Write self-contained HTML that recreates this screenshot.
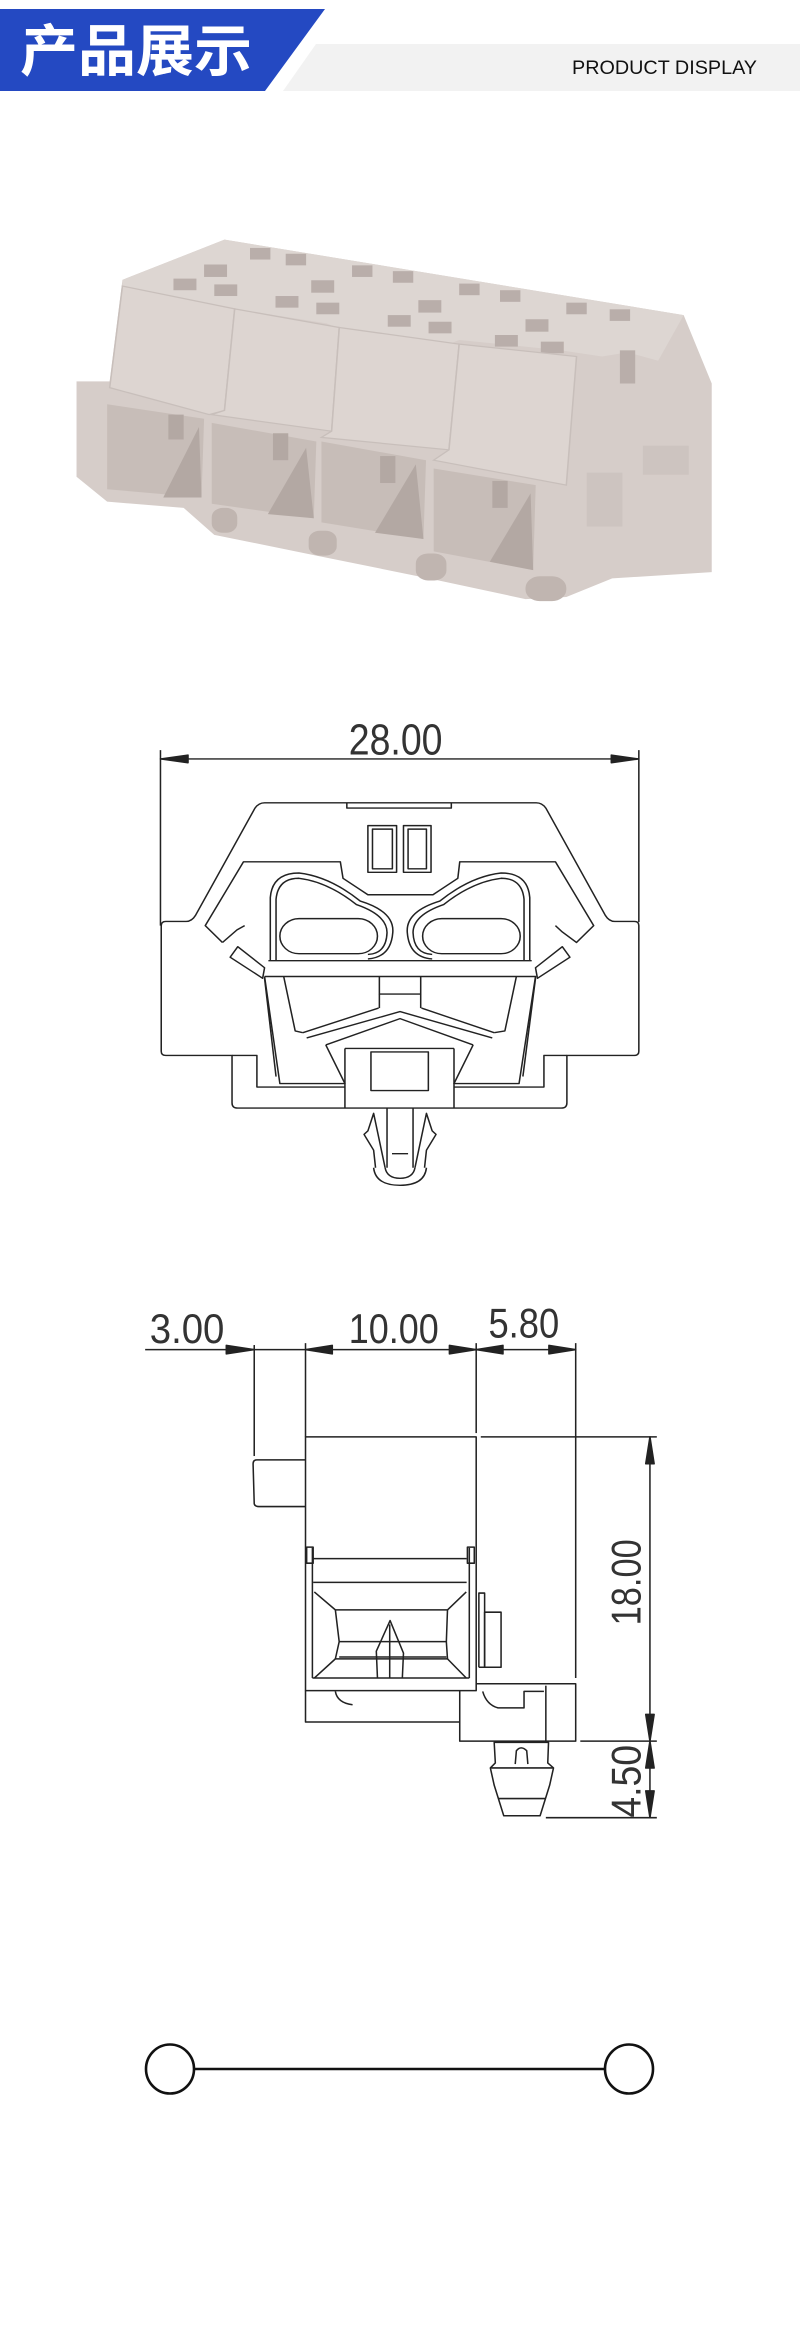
<!DOCTYPE html>
<html><head><meta charset="utf-8"><style>
html,body{margin:0;padding:0;background:#fff;}
body{width:800px;height:2335px;position:relative;overflow:hidden;}
svg{position:absolute;left:0;top:0;}
</style></head><body>
<svg width="800" height="2335" viewBox="0 0 800 2335" xmlns="http://www.w3.org/2000/svg">
<!-- header -->
<polygon points="316,44 800,44 800,91 283,91" fill="#f2f2f2"/>
<polygon points="0,9 325,9 265,91 0,91" fill="#2449c2"/>
<text x="20" y="71" font-family="'Liberation Sans','Noto Sans CJK SC',sans-serif" font-size="56" font-weight="bold" fill="#fff" textLength="232" lengthAdjust="spacingAndGlyphs">产品展示</text>
<text x="572" y="74" font-family="'Liberation Sans',sans-serif" font-size="19" fill="#111" textLength="185" lengthAdjust="spacingAndGlyphs">PRODUCT DISPLAY</text>

<!-- product photo (zoom1 coords) -->
<g transform="scale(0.5102,0.4146)">
 <polygon points="150,920 215,920 240,675 440,578 1340,760 1395,925 1395,1380 1200,1395 1110,1440 1030,1445 860,1400 620,1340 420,1290 360,1225 210,1210 150,1150" fill="#d6cdc9"/>
 <polygon points="240,675 440,578 1340,760 1290,870 1230,850 1180,860 1100,845 900,820 880,830 660,790 640,780 460,745 240,690" fill="#ddd6d2"/>
 <g fill="#b9aeaa">
  <rect x="490" y="598" width="40" height="28"/><rect x="560" y="612" width="40" height="28"/>
  <rect x="400" y="638" width="45" height="30"/><rect x="340" y="672" width="45" height="28"/><rect x="420" y="686" width="45" height="28"/>
  <rect x="690" y="640" width="40" height="28"/><rect x="770" y="654" width="40" height="28"/>
  <rect x="610" y="676" width="45" height="30"/><rect x="540" y="714" width="45" height="28"/><rect x="620" y="730" width="45" height="28"/>
  <rect x="900" y="684" width="40" height="28"/><rect x="980" y="700" width="40" height="28"/>
  <rect x="820" y="724" width="45" height="30"/><rect x="760" y="760" width="45" height="28"/><rect x="840" y="776" width="45" height="28"/>
  <rect x="1110" y="730" width="40" height="28"/><rect x="1195" y="746" width="40" height="28"/>
  <rect x="1030" y="770" width="45" height="30"/><rect x="970" y="808" width="45" height="28"/><rect x="1060" y="824" width="45" height="28"/>
  <rect x="1215" y="845" width="30" height="80"/>
 </g>
 <g fill="#ddd5d1" stroke="#c8bfbb" stroke-width="3">
  <polygon points="240,690 460,745 440,990 410,1000 215,935"/>
  <polygon points="460,745 665,790 650,1040 415,1000 440,990"/>
  <polygon points="665,790 900,830 880,1085 630,1055 650,1040"/>
  <polygon points="900,830 1130,860 1110,1170 850,1110 880,1085"/>
 </g>
 <g fill="#c7bdb8">
  <polygon points="210,975 400,1010 395,1200 210,1180"/>
  <polygon points="415,1020 620,1065 615,1250 415,1215"/>
  <polygon points="630,1065 835,1110 830,1300 630,1260"/>
  <polygon points="850,1130 1050,1170 1045,1375 850,1330"/>
 </g>
 <g fill="#b3a8a3">
  <polygon points="320,1200 390,1030 395,1200"/>
  <polygon points="525,1240 600,1080 615,1250"/>
  <polygon points="735,1285 815,1120 830,1300"/>
  <polygon points="960,1355 1040,1190 1045,1375"/>
  <rect x="330" y="1000" width="30" height="60"/><rect x="535" y="1045" width="30" height="65"/><rect x="745" y="1100" width="30" height="65"/><rect x="965" y="1160" width="30" height="65"/>
 </g>
 <g fill="#c0b5b0">
  <rect x="415" y="1225" width="50" height="60" rx="22"/>
  <rect x="605" y="1280" width="55" height="60" rx="22"/>
  <rect x="815" y="1335" width="60" height="65" rx="24"/>
  <rect x="1030" y="1390" width="80" height="60" rx="28"/>
  <rect x="1150" y="1140" width="70" height="130" fill="#cdc4c0"/>
  <rect x="1260" y="1075" width="90" height="70" fill="#cdc4c0"/>
 </g>
</g>

<!-- front drawing (zoom2 coords) -->
<g transform="translate(100,680) scale(0.3827,0.3509)" fill="none" stroke="#222" stroke-width="4" stroke-linejoin="round">
 <line x1="158" y1="200" x2="158" y2="700"/><line x1="1408" y1="200" x2="1408" y2="690"/>
 <line x1="158" y1="225" x2="1408" y2="225"/>
 <polygon points="158,225 230,214 230,236" fill="#222"/>
 <polygon points="1408,225 1336,214 1336,236" fill="#222"/>
 <text x="650" y="212" font-family="'Liberation Sans',sans-serif" font-size="125" fill="#333" stroke="none" textLength="245" lengthAdjust="spacingAndGlyphs">28.00</text>
 <path d="M160,700 L160,1058 Q160,1070 172,1070 L345,1070 L345,1205 Q345,1220 360,1220 L1205,1220 Q1220,1220 1220,1205 L1220,1070 L1396,1070 Q1408,1070 1408,1058 L1408,700 Q1408,688 1396,688 L1345,688 Q1330,688 1320,670 L1165,365 Q1155,350 1140,350 L430,350 Q415,350 405,365 L250,670 Q240,688 225,688 L172,688 Q160,688 160,700 Z"/>
 <polyline points="645,350 645,365 918,365 918,350"/>
 <rect x="700" y="415" width="75" height="133"/><rect x="712" y="425" width="52" height="113"/>
 <rect x="793" y="415" width="72" height="133"/><rect x="805" y="425" width="48" height="113"/>
 <path d="M320,748 L275,700 L375,518 L628,518 L635,565 L700,612 L870,612 L935,565 L940,518 L1190,518 L1290,700 L1245,748 L1208,718 L1190,700"/>
 <path d="M320,748 L358,712 L378,700"/>
 <path d="M445,800 L445,620 Q450,550 520,550 Q600,560 680,630 Q770,660 765,720 Q760,790 700,795"/>
 <path d="M460,800 L460,625 Q465,565 520,565 Q595,575 670,640 Q750,670 750,720 Q748,780 700,782"/>
 <rect x="470" y="680" width="255" height="100" rx="50"/>
 <path d="M1123,800 L1123,620 Q1118,550 1048,550 Q968,560 888,630 Q798,660 803,720 Q808,790 868,795"/>
 <path d="M1108,800 L1108,625 Q1103,565 1048,565 Q973,575 898,640 Q818,670 818,720 Q820,780 868,782"/>
 <rect x="843" y="680" width="255" height="100" rx="50"/>
 <line x1="440" y1="800" x2="1128" y2="800"/>
 <line x1="430" y1="845" x2="1140" y2="845"/>
 <polyline points="730,845 730,895 838,895 838,845"/>
 <line x1="730" y1="895" x2="730" y2="935"/><line x1="838" y1="895" x2="838" y2="935"/>
 <polyline points="530,1005 728,935"/><polyline points="840,935 1030,1005"/>
 <polyline points="540,1020 784,945 1025,1020"/>
 <polyline points="590,1040 784,965 975,1040"/>
 <polyline points="590,1040 640,1150 470,1150 430,845"/>
 <polyline points="975,1040 925,1150 1095,1150 1138,845"/>
 <polyline points="480,845 510,1000 530,1005"/>
 <polyline points="1088,845 1058,1000 1030,1005"/>
 <line x1="460" y1="1130" x2="430" y2="850"/><line x1="1105" y1="1130" x2="1138" y2="850"/>
 <line x1="640" y1="1050" x2="640" y2="1220"/><line x1="925" y1="1050" x2="925" y2="1220"/>
 <line x1="640" y1="1050" x2="925" y2="1050"/>
 <rect x="708" y="1060" width="150" height="110"/>
 <path d="M340,790 L360,760 L430,820 L425,850 Z"/>
 <path d="M1228,790 L1208,760 L1138,820 L1143,850 Z"/>
 <polyline points="345,1070 410,1070 410,1160 640,1160"/>
 <polyline points="1220,1070 1160,1070 1160,1160 925,1160"/>
 <line x1="750" y1="1220" x2="750" y2="1390"/><line x1="818" y1="1220" x2="818" y2="1390"/>
 <line x1="763" y1="1350" x2="805" y2="1350"/>
 <path d="M745,1390 L715,1235 L700,1285 L690,1295 L715,1340 L720,1390"/>
 <path d="M823,1390 L853,1235 L868,1285 L878,1295 L853,1340 L848,1390"/>
 <path d="M715,1390 Q720,1440 784,1440 Q848,1440 853,1390"/>
 <path d="M745,1390 Q750,1420 784,1420 Q818,1420 823,1390"/>
</g>

<!-- side drawing (zoom3 coords) -->
<g transform="translate(100,1280) scale(0.3827)" fill="none" stroke="#222" stroke-width="4" stroke-linejoin="round">
 <line x1="118" y1="182" x2="1245" y2="182"/>
 <line x1="403" y1="170" x2="403" y2="460"/>
 <line x1="537" y1="165" x2="537" y2="410"/>
 <line x1="983" y1="165" x2="983" y2="400"/>
 <line x1="1243" y1="165" x2="1243" y2="1040"/>
 <g fill="#222">
  <polygon points="403,182 330,171 330,193"/>
  <polygon points="537,182 607,171 607,193"/>
  <polygon points="983,182 913,171 913,193"/>
  <polygon points="983,182 1053,171 1053,193"/>
  <polygon points="1243,182 1173,171 1173,193"/>
  <polygon points="1437,410 1426,480 1448,480"/>
  <polygon points="1437,1205 1426,1135 1448,1135"/>
  <polygon points="1437,1205 1426,1275 1448,1275"/>
  <polygon points="1437,1405 1426,1335 1448,1335"/>
 </g>
 <g font-family="'Liberation Sans',sans-serif" font-size="110" fill="#333" stroke="none">
  <text x="130" y="165" textLength="195" lengthAdjust="spacingAndGlyphs">3.00</text>
  <text x="650" y="165" textLength="235" lengthAdjust="spacingAndGlyphs">10.00</text>
  <text x="1015" y="150" textLength="185" lengthAdjust="spacingAndGlyphs">5.80</text>
  <text transform="translate(1412,790) rotate(-90)" text-anchor="middle" textLength="225" lengthAdjust="spacingAndGlyphs">18.00</text>
  <text transform="translate(1412,1310) rotate(-90)" text-anchor="middle" textLength="190" lengthAdjust="spacingAndGlyphs">4.50</text>
 </g>
 <line x1="1437" y1="410" x2="1437" y2="1405"/>
 <line x1="995" y1="410" x2="1455" y2="410"/>
 <line x1="1255" y1="1205" x2="1455" y2="1205"/>
 <line x1="1165" y1="1405" x2="1455" y2="1405"/>
 <rect x="537" y="410" width="446" height="663"/>
 <path d="M537,470 L410,470 Q400,470 400,480 L403,585 Q405,592 415,592 L537,592"/>
 <line x1="555" y1="700" x2="555" y2="1040"/><line x1="965" y1="700" x2="965" y2="1040"/>
 <rect x="540" y="698" width="17" height="42"/><rect x="960" y="698" width="18" height="42"/>
 <line x1="557" y1="728" x2="958" y2="728"/>
 <line x1="557" y1="790" x2="958" y2="790"/>
 <polyline points="560,815 615,862 908,862 957,815"/>
 <line x1="625" y1="945" x2="905" y2="945"/>
 <line x1="625" y1="985" x2="905" y2="985"/>
 <polyline points="560,1040 615,990 908,990 957,1040"/>
 <polyline points="615,862 625,945 615,990"/><polyline points="908,862 905,945 908,990"/>
 <line x1="555" y1="1040" x2="965" y2="1040"/>
 <polyline points="725,1040 722,970 758,890 793,975 790,1040"/>
 <line x1="757" y1="900" x2="757" y2="1040"/>
 <polyline points="990,1012 990,818 1005,818 1005,1012"/>
 <rect x="1005" y="868" width="43" height="144"/>
 <line x1="990" y1="1012" x2="1048" y2="1012"/>
 <polyline points="537,1073 537,1155 940,1155"/>
 <path d="M615,1075 Q620,1105 660,1110"/>
 <polyline points="983,1055 1243,1055 1243,1205 940,1205 940,1073"/>
 <line x1="1165" y1="1060" x2="1165" y2="1205"/>
 <path d="M1000,1075 Q1010,1110 1040,1118 L1108,1118 L1108,1075 L1160,1075"/>
 <polygon points="1030,1208 1033,1262 1020,1275 1030,1320 1055,1400 1150,1400 1175,1320 1185,1275 1170,1262 1172,1208"/>
 <path d="M1085,1265 L1088,1230 Q1100,1215 1115,1230 L1118,1265"/>
 <line x1="1022" y1="1275" x2="1183" y2="1275"/>
 <line x1="1040" y1="1355" x2="1165" y2="1355"/>
</g>

<!-- bottom schematic -->
<line x1="194" y1="2069" x2="605" y2="2069" stroke="#111" stroke-width="2.6"/>
<ellipse cx="170" cy="2069" rx="24" ry="24.5" fill="#fff" stroke="#111" stroke-width="2.6"/>
<ellipse cx="629" cy="2069" rx="24" ry="24.5" fill="#fff" stroke="#111" stroke-width="2.6"/>
</svg>
</body></html>
